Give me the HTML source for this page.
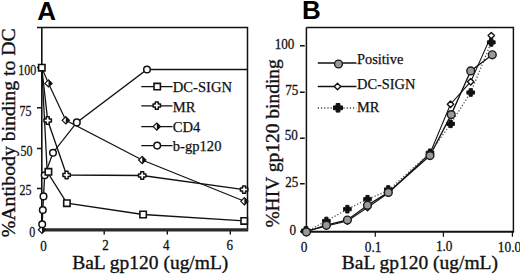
<!DOCTYPE html>
<html><head><meta charset="utf-8">
<style>
html,body{margin:0;padding:0;background:#fff;}
body{width:520px;height:275px;overflow:hidden;}
svg{display:block;}
text{font-family:"Liberation Serif",serif;fill:#111;}
.ttl{font-size:19.3px;stroke:#111;stroke-width:0.35px;}
.tk text{stroke:#111;stroke-width:0.3px;}
.lg text{stroke:#111;stroke-width:0.25px;}
.lab{font-family:"Liberation Sans",sans-serif;font-weight:bold;font-size:26px;fill:#000;}
</style></head><body>
<svg width="520" height="275" viewBox="0 0 520 275">
<defs>
  <path id="sq" d="M-3.2,-3.2 H3.2 V3.2 H-3.2 Z" fill="#fff" stroke="#111" stroke-width="1.6"/>
  <circle id="oc" r="3.3" fill="#fff" stroke="#111" stroke-width="1.5"/>
  <g id="hd"><path d="M0,-3.6 L3.6,0 L0,3.6 L-3.6,0 Z" fill="#fff" stroke="#111" stroke-width="1.2"/><path d="M0,-3.6 L3.6,0 L0,3.6 Z" fill="#111"/></g>
  <path id="pl" d="M-1.5,-3.7 L1.5,-3.7 L1.5,-1.5 L3.7,-1.5 L3.7,1.5 L1.5,1.5 L1.5,3.7 L-1.5,3.7 L-1.5,1.5 L-3.7,1.5 L-3.7,-1.5 L-1.5,-1.5 Z" fill="#fff" stroke="#111" stroke-width="1.5" stroke-linejoin="round"/>
  <circle id="gc" r="3.9" fill="#999" stroke="#1a1a1a" stroke-width="1.4"/>
  <path id="od" d="M0,-3.2 L3.2,0 L0,3.2 L-3.2,0 Z" fill="#fff" stroke="#111" stroke-width="1.4" stroke-linejoin="round"/>
  <path id="bx" d="M-1.6,-3.8 H1.6 V-1.6 H3.8 V1.6 H1.6 V3.8 H-1.6 V1.6 H-3.8 V-1.6 H-1.6 Z" fill="#111" stroke="#111" stroke-width="1" stroke-linejoin="round"/>
  <path id="bxl" d="M-1.9,-4.3 H1.9 V-1.9 H4.5 V1.9 H1.9 V4.3 H-1.9 V1.9 H-4.5 V-1.9 H-1.9 Z" fill="#111" stroke="#111" stroke-width="1" stroke-linejoin="round"/>
</defs>

<!-- ===== Panel A ===== -->
<text class="lab" x="37.3" y="20">A</text>
<!-- frame -->
<g stroke="#111" stroke-width="1.3" fill="none">
  <path d="M37,27.45 H247.5 V229.5" stroke-width="1.5"/>
  <path d="M41.8,27.45 V229.5" stroke-width="1.6"/>
  <path d="M37,107.8 H41.8 M37,148.4 H41.8 M37,188.4 H41.8 M37,67.5 H41.8" stroke-width="1.5"/>
  <path d="M104.2,229 V234.6 M167.3,229 V234.6 M230.3,229 V234.6" stroke-width="1.4"/>
</g>
<path d="M41.8,229.8 H248.2" stroke="#2a2a2a" stroke-width="3.2"/>
<!-- y tick labels -->
<g class="tk" font-size="15" text-anchor="end">
  <text transform="translate(36.3 75) scale(0.8 1)">100</text>
  <text transform="translate(31.6 115.9) scale(0.8 1)">75</text>
  <text transform="translate(32.6 155.6) scale(0.8 1)">50</text>
  <text transform="translate(31.6 194.5) scale(0.8 1)">25</text>
  <text transform="translate(35.2 237.2) scale(0.8 1)">0</text>
</g>
<!-- x tick labels -->
<g class="tk" font-size="15.2" text-anchor="middle">
  <text transform="translate(43.4 250.5) scale(0.86 1)">0</text>
  <text transform="translate(105.6 249.9) scale(0.86 1)">2</text>
  <text transform="translate(166.3 249.6) scale(0.86 1)">4</text>
  <text transform="translate(229.8 249.6) scale(0.86 1)">6</text>
</g>
<!-- axis titles -->
<text class="ttl" transform="translate(72.2 268.8) scale(1.01 1)">BaL gp120 (ug/mL)</text>
<text class="ttl" transform="translate(14.6 237.2) rotate(-90) scale(1.024 1)">%Antibody binding to DC</text>

<!-- series lines A -->
<g fill="none" stroke="#111" stroke-width="1.3">
  <polyline points="41.8,67.7 47.2,171.8 66.9,203.2 143.1,214.5 244.2,220.9"/>
  <polyline points="41.8,67.7 47.7,120.5 66.6,175 142.2,175.5 244.1,189.6"/>
  <polyline points="41.8,67.7 48.5,83.4 65.8,120.3 142.2,160 244.4,201.3" stroke-width="1.2"/>
  <polyline points="42,229 42.2,224.2 42.8,210 43.5,196.4 44.7,175.3 53,152.7 76.8,122.4 147,69.5 247.5,69.5"/>
</g>
<!-- markers A -->
<use href="#hd" x="42" y="229.8"/>
<use href="#oc" x="42.2" y="224.2"/>
<use href="#oc" x="42.8" y="210"/>
<use href="#oc" x="43.5" y="196.4"/>
<use href="#oc" x="44.7" y="175.3"/>
<use href="#oc" x="53" y="152.7"/>
<use href="#oc" x="76.8" y="122.4"/>
<use href="#oc" x="147" y="69.5"/>
<use href="#hd" x="48.5" y="83.4"/>
<use href="#hd" x="65.8" y="120.3"/>
<use href="#hd" x="142.2" y="160"/>
<use href="#hd" x="244.4" y="201.3"/>
<use href="#pl" x="47.7" y="120.5"/>
<use href="#pl" x="66.6" y="175"/>
<use href="#pl" x="142.2" y="175.5"/>
<use href="#pl" x="244.1" y="189.6"/>
<use href="#sq" x="41.8" y="67.7"/>
<use href="#sq" x="48.4" y="171.8"/>
<use href="#sq" x="66.9" y="203.2"/>
<use href="#sq" x="143.1" y="214.5"/>
<use href="#sq" x="244.2" y="220.9"/>

<!-- legend A -->
<g stroke="#111" stroke-width="1.3">
  <path d="M141.3,86.6 H172.5 M141.3,105.8 H172.5 M141.3,126.6 H172.5 M141.3,145.6 H172.5"/>
</g>
<use href="#sq" x="157.2" y="86.6"/>
<use href="#pl" x="156.8" y="105.6"/>
<use href="#hd" x="156.8" y="126.6"/>
<use href="#oc" x="157.2" y="145.6"/>
<g class="lg" font-size="14.6">
  <text x="172.8" y="92.2">DC-SIGN</text>
  <text x="172.8" y="111.6">MR</text>
  <text x="172.8" y="131.8">CD4</text>
  <text x="172.8" y="151.4">b-gp120</text>
</g>

<!-- ===== Panel B ===== -->
<text class="lab" x="301.9" y="19.3">B</text>
<g stroke="#111" stroke-width="1.2" fill="none">
  <path d="M306.4,27.4 H513.4 V232" stroke-width="1.45"/>
  <path d="M306.4,27.4 V232" stroke-width="1.5"/>
  <path d="M300,45.8 H304.7 M300,92.2 H304.7 M300,138.3 H304.7 M300,183.7 H304.7 M300,231.6 H304.7" stroke-width="1.6"/>
  <path d="M375.3,231.5 V236.8 M443.4,231.5 V236.8 M512.4,231.5 V236.8"/>
</g>
<path d="M306.4,231.8 H514.1" stroke="#111" stroke-width="1.9"/>
<g class="tk" font-size="14.6" text-anchor="end">
  <text transform="translate(294.4 48.8) scale(0.9 1)">100</text>
  <text transform="translate(298.4 95.4) scale(0.9 1)">75</text>
  <text transform="translate(297.8 139.7) scale(0.9 1)">50</text>
  <text transform="translate(298.4 186.8) scale(0.9 1)">25</text>
  <text transform="translate(296 234.5) scale(0.9 1)">0</text>
</g>
<g class="tk" font-size="14.8" text-anchor="middle">
  <text transform="translate(304 251.6) scale(0.9 1)">0</text>
  <text transform="translate(373.1 251.7) scale(0.9 1)">0.1</text>
  <text transform="translate(444.2 251.4) scale(0.9 1)">1.0</text>
  <text transform="translate(509.5 251.6) scale(0.9 1)">10.0</text>
</g>
<text class="ttl" transform="translate(341.8 268.8) scale(1.01 1)">BaL gp120 (ug/mL)</text>
<text class="ttl" transform="translate(279 227.6) rotate(-90) scale(1.01 1)">%HIV gp120 binding</text>

<!-- series B -->
<g fill="none" stroke="#111" stroke-width="1.3">
  <!-- Positive -->
  <polyline points="306.3,231.5 326.4,225.2 347.4,220 367.5,205.2 388.3,192.4 430,155.6 451.2,114.6 470.7,70.9 492.3,54.8"/>
  <!-- DC-SIGN -->
  <polyline points="306.3,231.5 326.4,226 347.4,221 367.5,207.5 388.3,193 430,153.5 450.5,104.2 470.7,81.7 491.3,35.6" stroke-width="1.1"/>
  <!-- MR dotted -->
  <polyline points="306.3,231.5 326.4,221 347.4,209.2 367.5,199.2 388.3,190.5 430,153 450.6,123.8 470.7,92.5 491.3,42.4" stroke="#444" stroke-width="1.3" stroke-dasharray="1.2 2"/>
</g>
<use href="#od" x="306.4" y="232.6"/>
<use href="#od" x="326.4" y="226"/>
<use href="#od" x="347.4" y="221"/>
<use href="#od" x="367.5" y="207.5"/>
<use href="#od" x="388.3" y="193"/>
<use href="#od" x="430" y="153.5"/>
<use href="#od" x="450.5" y="104.2"/>
<use href="#od" x="470.7" y="81.7"/>
<use href="#od" x="491.3" y="35.6"/>
<use href="#bxl" x="306" y="231"/>
<use href="#bx" x="326.4" y="221"/>
<use href="#bx" x="347.4" y="209.2"/>
<use href="#bx" x="367.5" y="199.2"/>
<use href="#bx" x="388.3" y="189.5"/>
<use href="#bx" x="430" y="152.8"/>
<use href="#bx" x="450.6" y="123.8"/>
<use href="#bx" x="470.7" y="92.5"/>
<use href="#bx" x="491.3" y="42.4"/>
<use href="#gc" x="306.4" y="232"/>
<use href="#gc" x="326.4" y="225.2"/>
<use href="#gc" x="347.4" y="220"/>
<use href="#gc" x="367.5" y="205.2"/>
<use href="#gc" x="388.3" y="192.4"/>
<use href="#gc" x="430" y="155.6"/>
<use href="#gc" x="451.2" y="114.6"/>
<use href="#gc" x="470.7" y="70.9"/>
<use href="#gc" x="492.3" y="54.8"/>

<!-- legend B -->
<g stroke="#111" stroke-width="1.3" fill="none">
  <path d="M317.8,63 H356.5 M317.8,86.5 H356.5"/>
  <path d="M317.8,108 H356.5" stroke="#444" stroke-dasharray="1.2 2" stroke-width="1.3"/>
</g>
<use href="#gc" x="338.5" y="64"/>
<use href="#od" x="337.5" y="86.5"/>
<use href="#bxl" x="338" y="107.8"/>
<g class="lg" font-size="14.4">
  <text x="357" y="63.8">Positive</text>
  <text x="357" y="88.7">DC-SIGN</text>
  <text x="357" y="111.6">MR</text>
</g>
</svg>
</body></html>
